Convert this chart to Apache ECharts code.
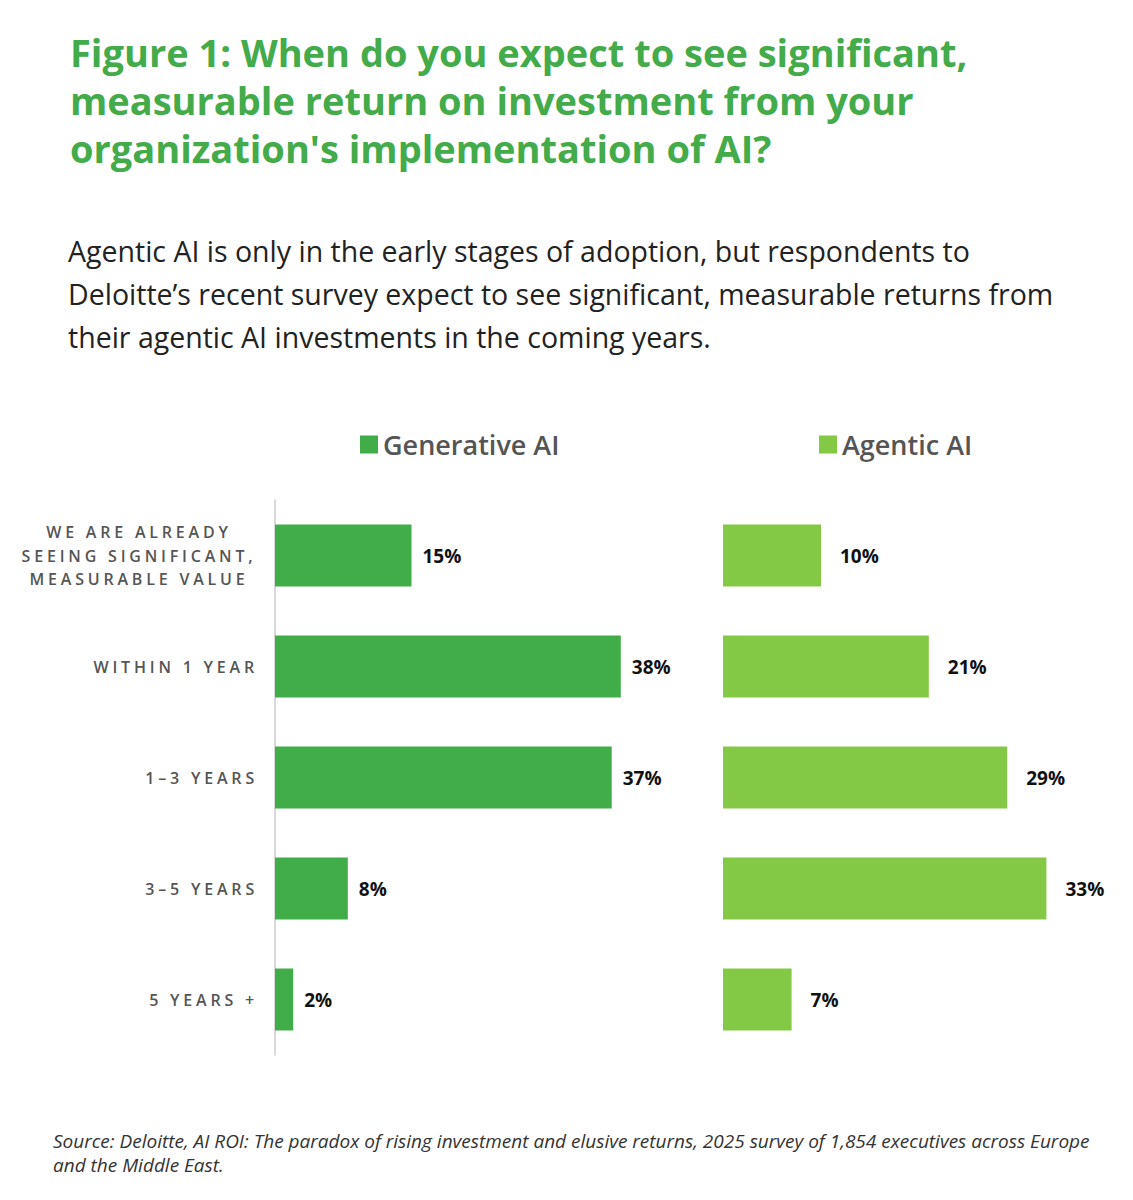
<!DOCTYPE html>
<html>
<head>
<meta charset="utf-8">
<script src="https://cdn.jsdelivr.net/npm/echarts@6/dist/echarts.min.js"></script>
<style>
html,body{margin:0;padding:0;background:#fff;}
#chart{width:1133px;height:1200px;}
#chart text[style*="LSP"], #chart text[font-family*="LSP"] { letter-spacing: 3.8px; }
</style>
</head>
<body>
<div id="chart"></div>
<script>
const categories = [
  'WE ARE ALREADY\nSEEING SIGNIFICANT,\nMEASURABLE VALUE',
  'WITHIN 1 YEAR',
  '1–3 YEARS',
  '3–5 YEARS',
  '5 YEARS +'
];
const generativeAI = [15, 38, 37, 8, 2];
const agenticAI = [10, 21, 29, 33, 7];
const seriesNames = ['Generative AI', 'Agentic AI'];

const titleText = "Figure 1: When do you expect to see significant,\nmeasurable return on investment from your\norganization's implementation of AI?";
const subtitleText = "Agentic AI is only in the early stages of adoption, but respondents to\nDeloitte’s recent survey expect to see significant, measurable returns from\ntheir agentic AI investments in the coming years.";
const sourceText = "Source: Deloitte, AI ROI: The paradox of rising investment and elusive returns, 2025 survey of 1,854 executives across Europe\nand the Middle East.";

const GREEN1 = '#41ad49';
const GREEN2 = '#84c945';
const FONT = "'Open Sans', 'Noto Sans', sans-serif";
const LABEL_FONT = "'Open Sans', LSP, sans-serif";

const chart = echarts.init(document.getElementById('chart'), null, {renderer: 'svg'});
chart.setOption({
  backgroundColor: '#ffffff',
  animation: false,
  title: [
    {
      text: titleText, left: 65, top: 23,
      textStyle: {fontFamily: FONT, fontSize: 38, fontWeight: 'bold', color: '#43ab4a', lineHeight: 48}
    },
    {
      text: subtitleText, left: 63, top: 224,
      textStyle: {fontFamily: FONT, fontSize: 28.5, fontWeight: 'normal', color: '#222222', lineHeight: 43}
    },
    {
      text: sourceText, left: 48, top: 1124,
      textStyle: {fontFamily: FONT, fontSize: 19, fontStyle: 'italic', fontWeight: 'normal', color: '#333333', lineHeight: 24}
    }
  ],
  legend: [
    {
      data: [seriesNames[0]], left: 355, top: 426, itemWidth: 18, itemHeight: 18, icon: 'rect',
      textStyle: {fontFamily: FONT, fontSize: 27, fontWeight: 600, color: '#555555'}
    },
    {
      data: [seriesNames[1]], left: 814, top: 426, itemWidth: 18, itemHeight: 18, icon: 'rect',
      textStyle: {fontFamily: FONT, fontSize: 27, fontWeight: 600, color: '#555555'}
    }
  ],
  grid: [
    {left: 275, top: 500, width: 455, height: 555, containLabel: false},
    {left: 723, top: 500, width: 392, height: 555, containLabel: false}
  ],
  xAxis: [
    {gridIndex: 0, type: 'value', min: 0, max: 50, show: false, splitLine: {show: false}},
    {gridIndex: 1, type: 'value', min: 0, max: 40, show: false, splitLine: {show: false}}
  ],
  yAxis: [
    {
      gridIndex: 0, type: 'category', data: categories, inverse: true,
      axisLine: {show: true, lineStyle: {color: '#cccccc', width: 1.5}},
      axisTick: {show: false},
      axisLabel: {
        margin: 17, align: 'right',
        fontFamily: LABEL_FONT, fontSize: 16, fontWeight: 600,
        color: '#555555', lineHeight: 23.5,
        formatter: function (v) {
          if (v.indexOf('\n') < 0) return v;
          return v.split('\n').map(function (s) { return '{c|' + s + '}'; }).join('\n');
        },
        rich: {
          c: {
            width: 238, align: 'center', fontFamily: LABEL_FONT, fontSize: 16,
            fontWeight: 600, color: '#555555', lineHeight: 23.5
          }
        }
      }
    },
    {
      gridIndex: 1, type: 'category', data: categories, inverse: true, show: false
    }
  ],
  series: [
    {
      name: seriesNames[0], type: 'bar', xAxisIndex: 0, yAxisIndex: 0,
      data: generativeAI, barWidth: 62, itemStyle: {color: GREEN1},
      label: {
        show: true, position: 'right', distance: 11, formatter: '{c}%',
        fontFamily: FONT, fontSize: 19, fontWeight: 'bold', color: '#111111'
      }
    },
    {
      name: seriesNames[1], type: 'bar', xAxisIndex: 1, yAxisIndex: 1,
      data: agenticAI, barWidth: 62, itemStyle: {color: GREEN2},
      label: {
        show: true, position: 'right', distance: 19, formatter: '{c}%',
        fontFamily: FONT, fontSize: 19, fontWeight: 'bold', color: '#111111'
      }
    }
  ]
});
</script>
</body>
</html>
